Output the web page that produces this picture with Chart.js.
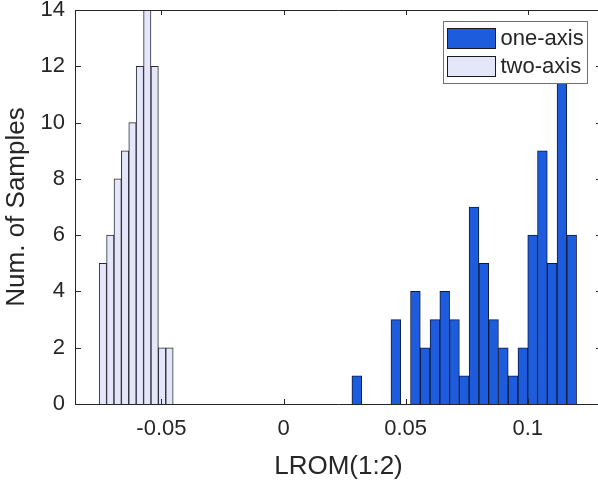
<!DOCTYPE html>
<html>
<head>
<meta charset="utf-8">
<script src="https://cdn.jsdelivr.net/npm/chart.js@4.4.1/dist/chart.umd.min.js"></script>
<style>
  html, body { margin: 0; padding: 0; background: #fff; overflow: hidden; }
  .chart-wrap { position: relative; width: 602px; height: 487px; }
</style>
</head>
<body>
<div class="chart-wrap"><canvas id="lromHistogram"></canvas></div>
<script>
// bin centres and counts
const oneAxisBins = [
  0.030, 0.034, 0.038, 0.042, 0.046, 0.050, 0.054, 0.058, 0.062, 0.066, 0.070, 0.074,
  0.078, 0.082, 0.086, 0.090, 0.094, 0.098, 0.102, 0.106, 0.110, 0.114, 0.118,
];
const oneAxisCounts = [1, 0, 0, 0, 3, 0, 4, 2, 3, 4, 3, 1, 7, 5, 3, 2, 1, 2, 6, 9, 5, 12, 6];

const twoAxisBins = [
  -0.07398, -0.07095, -0.06792, -0.06489, -0.06186,
  -0.05883, -0.0558, -0.05277, -0.04974, -0.04671,
];
const twoAxisCounts = [5, 6, 8, 9, 10, 12, 14, 12, 2, 2];

const seriesLabels = ["one-axis", "two-axis"];
const xTickValues = [-0.05, 0, 0.05, 0.1];
const yTickValues = [0, 2, 4, 6, 8, 10, 12, 14];
const xLimits = [-0.085, 0.13];
const yLimits = [0, 14];

const fontFamily = "'Liberation Sans', Arial, Helvetica, sans-serif";
const axisColor = "#262626";

function toPoints(bins, counts) {
  return bins.map((x, i) => ({ x, y: counts[i] }));
}

// MATLAB-style box: top edge plus inward tick marks on every side
const axisFramePlugin = {
  id: "axisFrame",
  afterDraw(chart) {
    const { ctx, chartArea, scales } = chart;
    const tickLen = 5;
    ctx.save();
    ctx.strokeStyle = axisColor;
    ctx.lineWidth = 1;
    ctx.beginPath();
    const top = Math.round(chartArea.top) + 0.5;
    const right = Math.round(chartArea.right) - 0.5;
    ctx.moveTo(chartArea.left, top);
    ctx.lineTo(chartArea.right, top);
    ctx.moveTo(right, chartArea.top);
    ctx.lineTo(right, chartArea.bottom);
    xTickValues.forEach((v) => {
      const px = Math.round(scales.x.getPixelForValue(v)) + 0.5;
      ctx.moveTo(px, chartArea.bottom);
      ctx.lineTo(px, chartArea.bottom - tickLen);
      ctx.moveTo(px, chartArea.top);
      ctx.lineTo(px, chartArea.top + tickLen);
    });
    yTickValues.forEach((v) => {
      const py = Math.round(scales.y.getPixelForValue(v)) + 0.5;
      ctx.moveTo(chartArea.left, py);
      ctx.lineTo(chartArea.left + tickLen, py);
      ctx.moveTo(chartArea.right, py);
      ctx.lineTo(chartArea.right - tickLen, py);
    });
    ctx.stroke();
    ctx.restore();
  },
};

// boxed legend in the upper right corner of the plot
const boxedLegendPlugin = {
  id: "boxedLegend",
  afterDraw(chart, args, opts) {
    const { ctx, chartArea } = chart;
    const datasets = chart.data.datasets;
    const boxW = 144;
    const boxH = 62;
    const left = Math.round(chartArea.right - opts.offsetRight - boxW) + 0.5;
    const top = Math.round(chartArea.top + opts.offsetTop) + 0.5;

    ctx.save();
    ctx.fillStyle = "#ffffff";
    ctx.fillRect(left, top, boxW, boxH);
    ctx.strokeStyle = "#707070";
    ctx.lineWidth = 1;
    ctx.strokeRect(left, top, boxW, boxH);

    ctx.font = `22px ${fontFamily}`;
    ctx.textBaseline = "middle";
    ctx.textAlign = "left";
    datasets.forEach((ds, i) => {
      const rowTop = top + 7 + i * 28;
      ctx.fillStyle = ds.backgroundColor;
      ctx.fillRect(left + 4, rowTop, 48, 20);
      ctx.strokeStyle = "#1a1a1a";
      ctx.strokeRect(left + 4, rowTop, 48, 20);
      ctx.fillStyle = axisColor;
      ctx.fillText(ds.label, left + 57, rowTop + 10);
    });
    ctx.restore();
  },
};

function buildHistogram(ctx) {
  const titleFont = { family: fontFamily, size: 26 };

  return new Chart(ctx, {
    type: "bar",
    data: {
      datasets: [
        {
          label: seriesLabels[0],
          data: toPoints(oneAxisBins, oneAxisCounts),
          xAxisID: "x",
          backgroundColor: "#1e5cde",
          borderColor: "#0d1b3a",
          borderWidth: 1,
        },
        {
          label: seriesLabels[1],
          data: toPoints(twoAxisBins, twoAxisCounts),
          xAxisID: "x2",
          backgroundColor: "#e6e6fa",
          borderColor: "#2a2a33",
          borderWidth: 1,
        },
      ],
    },
    options: {
      responsive: true,
      maintainAspectRatio: false,
      animation: false,
      grouped: false,
      barPercentage: 1,
      categoryPercentage: 1,
      layout: {
        padding: { top: 0, right: 1, bottom: 0, left: 0 },
      },
      plugins: {
        legend: { display: false },
        tooltip: { enabled: false },
        boxedLegend: { offsetRight: 14, offsetTop: 11 },
      },
      scales: {
        x: {
          type: "linear",
          offset: false,
          min: xLimits[0],
          max: xLimits[1],
          afterBuildTicks(scale) {
            scale.ticks = xTickValues.map((value) => ({ value }));
          },
          grid: { display: false, drawTicks: false, offset: false },
          border: { display: true, color: axisColor, width: 1 },
          ticks: {
            color: axisColor,
            padding: 12,
            font: { family: fontFamily, size: 22 },
            maxRotation: 0,
            callback(value) {
              return String(value);
            },
          },
          title: {
            display: true,
            text: "LROM(1:2)",
            color: axisColor,
            font: titleFont,
            padding: { top: -3.6, bottom: 5 },
          },
        },
        x2: {
          type: "linear",
          display: false,
          offset: false,
          min: xLimits[0],
          max: xLimits[1],
          grid: { offset: false },
        },
        y: {
          min: yLimits[0],
          max: yLimits[1],
          afterBuildTicks(scale) {
            scale.ticks = yTickValues.map((value) => ({ value }));
          },
          // the top label may sit over the page edge, as in the original
          afterFit(scale) {
            scale.paddingTop = 10;
          },
          grid: { display: false, drawTicks: false },
          border: { display: true, color: axisColor, width: 1 },
          ticks: {
            color: axisColor,
            padding: 11,
            font: { family: fontFamily, size: 22 },
          },
          title: {
            display: true,
            text: "Num. of Samples",
            color: axisColor,
            font: titleFont,
            padding: { top: 1, bottom: -2.7 },
          },
        },
      },
    },
    plugins: [axisFramePlugin, boxedLegendPlugin],
  });
}

function initHistogram() {
  if (typeof Chart === "undefined") return;
  const canvas = document.getElementById("lromHistogram");
  if (canvas) {
    buildHistogram(canvas);
  }
}

if (document.readyState === "loading") {
  document.addEventListener("DOMContentLoaded", initHistogram);
} else {
  initHistogram();
}
</script>
</body>
</html>
